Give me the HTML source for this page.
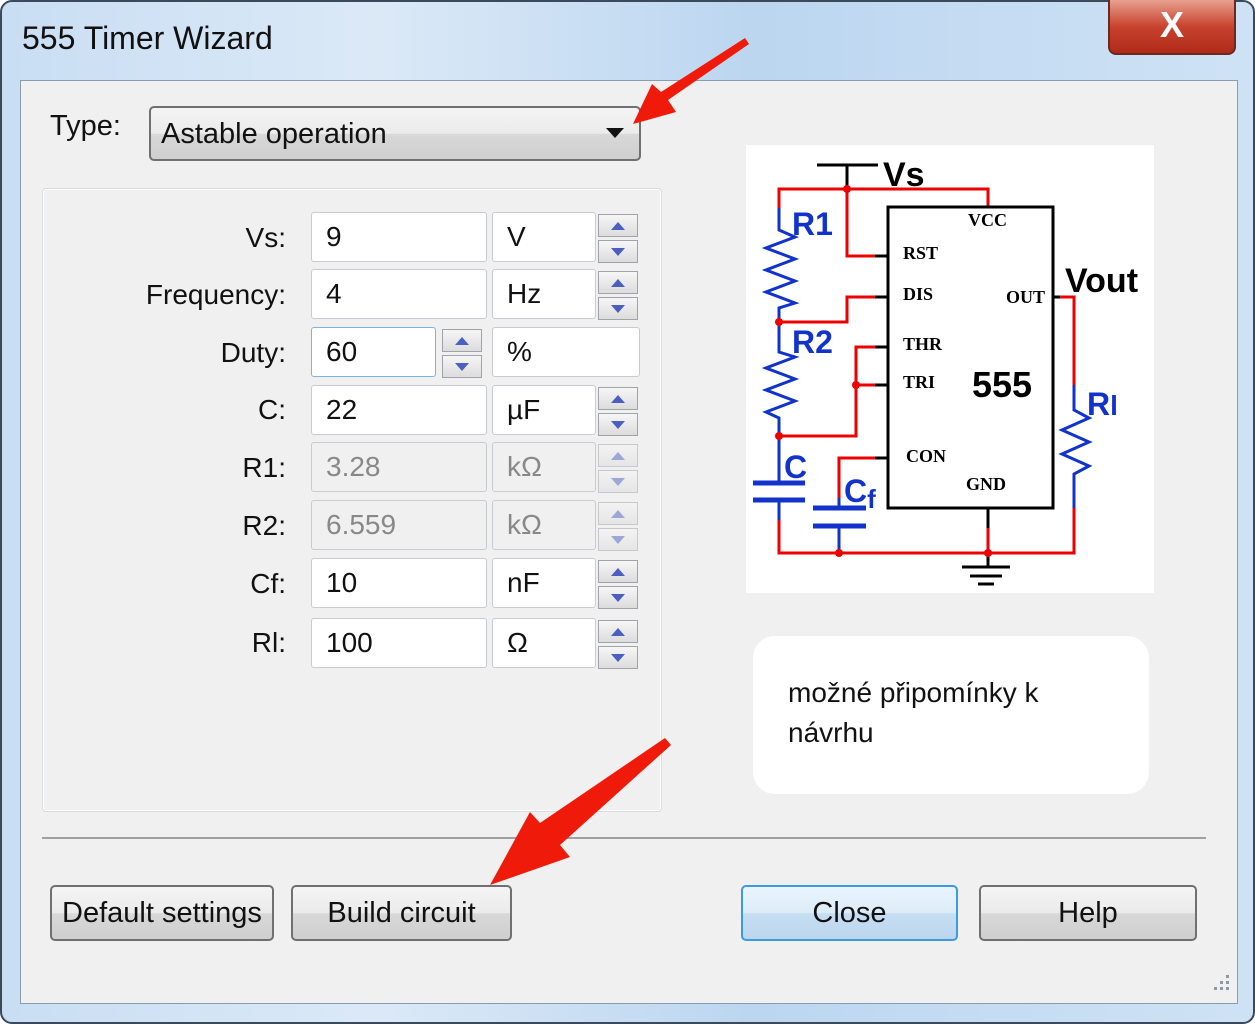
<!DOCTYPE html>
<html><head><meta charset="utf-8"><style>
*{box-sizing:border-box;margin:0;padding:0}
body{width:1255px;height:1024px;overflow:hidden;font-family:"Liberation Sans",sans-serif;background:#fff;position:relative}
.abs{position:absolute}
.frame{left:0;top:0;width:1255px;height:1024px;border:2px solid #3a4a5a;border-radius:12px;background:linear-gradient(90deg,#c9def3 0%,#dbe9f7 30%,#bcd6f0 60%,#cfe2f5 100%)}
.inner{left:20px;top:80px;width:1218px;height:924px;background:#f0f0f0;border:1px solid #8a9cb0}
.lbl{font-size:28px;color:#111;text-align:right;width:200px;left:86px}
.box{background:#fff;border:1px solid #c8ccd2;border-radius:3px;font-size:28px;color:#111;padding-left:14px;line-height:48px;height:50px}
.dis{background:#f0f0f0;color:#888}
.spin{width:40px;height:50px}
.spin div{height:23px;border:1px solid #a0a4aa;background:linear-gradient(#f6f6f6,#dcdcdc);margin-bottom:3px;position:relative}
.up:after,.dn:after{content:"";position:absolute;left:12px;top:7px;border-left:7px solid transparent;border-right:7px solid transparent}
.up:after{border-bottom:8px solid #4a5fc0}
.dn:after{border-top:8px solid #4a5fc0}
.btn{height:56px;border:2px solid #707070;border-radius:5px;background:linear-gradient(#f4f4f4 0%,#ebebeb 50%,#d8d8d8 51%,#cfcfcf 100%);font-size:29px;text-align:center;line-height:52px;color:#111}
</style></head><body>
<div class="abs frame"></div>
<div class="abs" style="left:1108px;top:0;width:128px;height:55px;border:2px solid #6a2a20;border-top:none;border-radius:0 0 8px 8px;background:linear-gradient(#e8a090,#c8432e 50%,#b02a18)"></div>
<div class="abs" style="left:1108px;top:4px;width:128px;text-align:center;font-size:36px;font-weight:bold;color:#fff">X</div>
<div class="abs" style="left:22px;top:20px;font-size:32px;color:#111">555 Timer Wizard</div>
<div class="abs inner"></div>
<div class="abs" style="left:50px;top:110px;font-size:29px;color:#111">Type:</div>
<div class="abs btn" style="left:149px;top:106px;width:492px;height:55px;text-align:left;padding-left:10px;font-size:29px">Astable operation</div>
<div class="abs" style="left:606px;top:128px;border-left:9px solid transparent;border-right:9px solid transparent;border-top:10px solid #111"></div>
<div class="abs" style="left:42px;top:188px;width:620px;height:624px;border:1px solid #d6dde4;border-radius:4px;box-shadow:inset 0 0 0 1px #fff"></div>

<div class="abs lbl" style="top:222px">Vs:</div>
<div class="abs box" style="left:311px;top:212px;width:176px">9</div>
<div class="abs box" style="left:492px;top:212px;width:104px">V</div>
<div class="abs spin" style="left:598px;top:214px"><div class="up"></div><div class="dn"></div></div>

<div class="abs lbl" style="top:279px">Frequency:</div>
<div class="abs box" style="left:311px;top:269px;width:176px">4</div>
<div class="abs box" style="left:492px;top:269px;width:104px">Hz</div>
<div class="abs spin" style="left:598px;top:271px"><div class="up"></div><div class="dn"></div></div>

<div class="abs lbl" style="top:337px">Duty:</div>
<div class="abs box" style="left:311px;top:327px;width:125px;border-color:#7eb4e0">60</div>
<div class="abs spin" style="left:442px;top:329px"><div class="up"></div><div class="dn"></div></div>
<div class="abs box" style="left:492px;top:327px;width:148px">%</div>

<div class="abs lbl" style="top:394px">C:</div>
<div class="abs box" style="left:311px;top:385px;width:176px">22</div>
<div class="abs box" style="left:492px;top:385px;width:104px">µF</div>
<div class="abs spin" style="left:598px;top:387px"><div class="up"></div><div class="dn"></div></div>

<div class="abs lbl" style="top:452px">R1:</div>
<div class="abs box dis" style="left:311px;top:442px;width:176px">3.28</div>
<div class="abs box dis" style="left:492px;top:442px;width:104px">kΩ</div>
<div class="abs spin" style="left:598px;top:444px;opacity:.5"><div class="up"></div><div class="dn"></div></div>

<div class="abs lbl" style="top:510px">R2:</div>
<div class="abs box dis" style="left:311px;top:500px;width:176px">6.559</div>
<div class="abs box dis" style="left:492px;top:500px;width:104px">kΩ</div>
<div class="abs spin" style="left:598px;top:502px;opacity:.5"><div class="up"></div><div class="dn"></div></div>

<div class="abs lbl" style="top:568px">Cf:</div>
<div class="abs box" style="left:311px;top:558px;width:176px">10</div>
<div class="abs box" style="left:492px;top:558px;width:104px">nF</div>
<div class="abs spin" style="left:598px;top:560px"><div class="up"></div><div class="dn"></div></div>

<div class="abs lbl" style="top:627px">Rl:</div>
<div class="abs box" style="left:311px;top:618px;width:176px">100</div>
<div class="abs box" style="left:492px;top:618px;width:104px">Ω</div>
<div class="abs spin" style="left:598px;top:620px"><div class="up"></div><div class="dn"></div></div>

<div class="abs" style="left:753px;top:636px;width:396px;height:158px;background:#fff;border-radius:22px"></div>
<div class="abs" style="left:788px;top:673px;font-size:28px;line-height:40px;color:#111">možné připomínky k<br>návrhu</div>

<div class="abs" style="left:42px;top:837px;width:1164px;height:2px;background:#a0a0a0"></div>
<div class="abs btn" style="left:50px;top:885px;width:224px">Default settings</div>
<div class="abs btn" style="left:291px;top:885px;width:221px">Build circuit</div>
<div class="abs btn" style="left:741px;top:885px;width:217px;border-color:#3c9be0;background:linear-gradient(#eaf4fc,#dcecf8 50%,#c6def2 51%,#bcd6ee)">Close</div>
<div class="abs btn" style="left:979px;top:885px;width:218px">Help</div>

<svg class="abs" style="left:0;top:0" width="1255" height="1024" font-family="Liberation Sans,sans-serif">
<rect x="746" y="145" width="408" height="448" fill="#fff"/>
<g fill="none" stroke-width="3">
<path d="M817 165H878M847 165V189" stroke="#000"/>
<path d="M779 208V189H988V207M847 189V256H875M875 297H847V322H779M888 347H856V436H779M856 385H888M888 458H839V498M779 520V553H1074V508M839 526V553M988 528V553M1053 297H1074V385" stroke="#e00"/>
<path d="M875 256H888M875 297H888M875 347H888M875 385H888M875 458H888M988 508V528M988 553V567M1053 297H1060" stroke="#000"/>
<path d="M779 208V230L795 237L766 248L795 259L766 270L795 281L766 292L795 303L779 308V352L795 357L766 368L795 379L766 390L795 401L766 412L779 418V483M779 500V520M839 498V508M839 526V553M1074 385V410L1089 418L1062 430L1089 442L1062 454L1089 466L1074 474V508" stroke="#13c"/>
<path d="M753 483H805M753 500H805M813 508H866M813 526H866" stroke="#13c" stroke-width="5"/>
<path d="M962 567H1010M970 576H1002M978 584H994" stroke="#000"/>
<rect x="888" y="207" width="165" height="301" stroke="#000"/>
</g>
<g fill="#e00"><circle cx="847" cy="189" r="4"/><circle cx="779" cy="322" r="4"/><circle cx="779" cy="436" r="4"/><circle cx="856" cy="385" r="4"/><circle cx="839" cy="553" r="4"/><circle cx="988" cy="553" r="4"/></g>
<g font-weight="bold">
<text x="883" y="186" font-size="34">Vs</text>
<text x="1065" y="292" font-size="34">Vout</text>
<text x="972" y="397" font-size="36">555</text>
<g fill="#13c" font-size="32"><text x="792" y="235">R1</text><text x="792" y="353">R2</text><text x="784" y="478">C</text><text x="844" y="502">C<tspan font-size="26" dy="6">f</tspan></text><text x="1087" y="415">R<tspan font-size="28">l</tspan></text></g>
<g font-family="Liberation Serif,serif" font-size="18"><text x="968" y="226">VCC</text><text x="903" y="259">RST</text><text x="903" y="300">DIS</text><text x="903" y="350">THR</text><text x="903" y="388">TRI</text><text x="906" y="462">CON</text><text x="966" y="490">GND</text><text x="1006" y="303">OUT</text></g>
</g>
<g fill="#f01a0a">
<path d="M745 38L749 44L668 100L676 112L633 124L652 84L661 92Z"/>
<path d="M665 738L671 745L560 845L570 857L490 885L530 812L540 823Z"/>
</g>
<g fill="#8a98a8"><rect x="1226" y="975" width="3" height="3"/><rect x="1220" y="981" width="3" height="3"/><rect x="1226" y="981" width="3" height="3"/><rect x="1214" y="987" width="3" height="3"/><rect x="1220" y="987" width="3" height="3"/><rect x="1226" y="987" width="3" height="3"/></g>
</svg>
</body></html>
